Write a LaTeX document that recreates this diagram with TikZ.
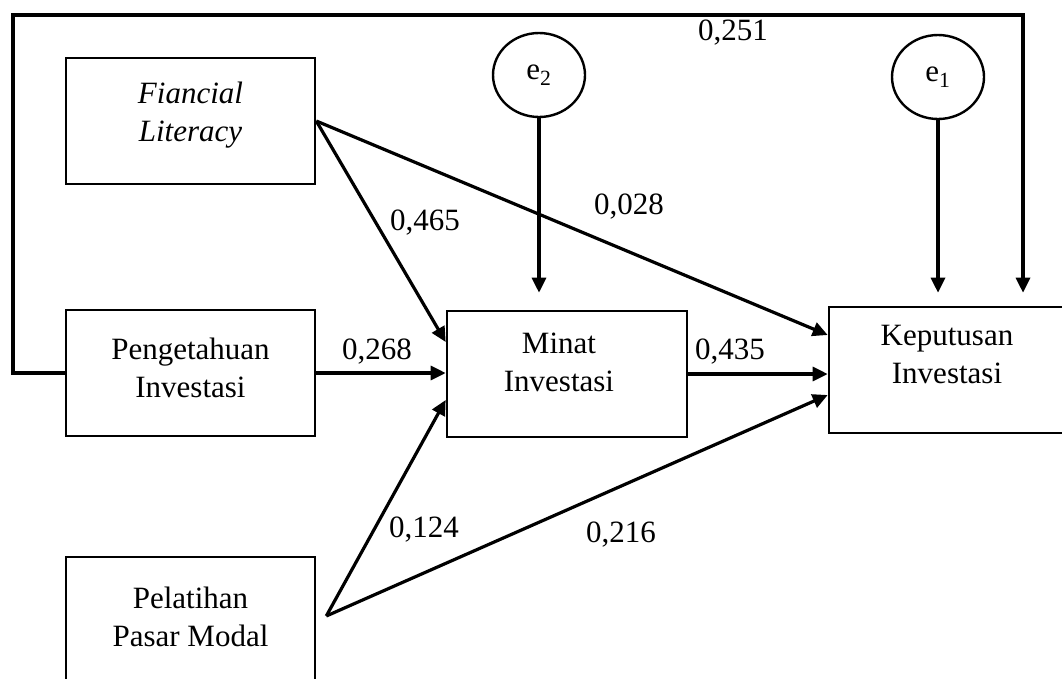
\documentclass[tikz,border=0pt]{standalone}
\usepackage{fontspec}
\setmainfont{Liberation Serif}
\usetikzlibrary{arrows.meta, calc, positioning, shapes.geometric}
\newcommand{\vartext}[2]{\raisebox{#1}[\height][\depth]{\begin{tabular}{@{}c@{}}#2\end{tabular}}}
\tikzset
{%
varbox/.style={draw, line width=2.6pt, minimum width=249pt, minimum height=126pt, inner sep=0pt},
err/.style={draw, ellipse, line width=2.4pt, minimum width=92pt, minimum height=84pt, inner sep=0pt},
coef/.style={inner sep=0pt},
conn/.style={line width=3.2pt, -{Triangle[length=15pt, width=14pt]}}
}

\begin{document}
\begin{tikzpicture}[x=1pt, y=-1pt, every node/.style={font=\fontsize{31}{38}\selectfont}]
		\useasboundingbox (0,0) rectangle (1062,678);
		\clip (0,0) rectangle (1062,678);
		
		%variables
		\node[varbox] (fl) at (190.5,121) {\vartext{6pt}{\itshape Fiancial\\\itshape Literacy}};
		\node[varbox] (pi) at (190.5,373) {\vartext{2pt}{Pengetahuan\\Investasi}};
		\node[varbox] (ppm) at (190.5,620) {\vartext{0pt}{Pelatihan\\Pasar Modal}};
		\node[varbox, minimum width=240pt] (mi) at (567,374) {\vartext{9pt}{Minat\hspace*{16pt}\\Investasi\hspace*{16pt}}};
		\node[varbox, minimum width=236pt] (ki) at (947,370) {\vartext{13pt}{Keputusan\\Investasi}};
		
		%errors
		\node[err] (e2) at (539,75) {e\textsubscript{2}};
		\node[err] (e1) at (938,77) {e\textsubscript{1}};
		
		%coefficients
		\node[coef] (c251) at (733,33) {0,251};
		\node[coef] (c465) at (425,223) {0,465};
		\node[coef] (c028) at (629,207) {0,028};
		\node[coef] (c268) at (377,352) {0,268};
		\node[coef] (c435) at (730,352) {0,435};
		\node[coef] (c124) at (424,530) {0,124};
		\node[coef] (c216) at (621,535) {0,216};
		
		%helper points
		\coordinate (mtop) at ($(mi.north)+(0,-17)$);
		\coordinate (ktop) at ($(ki.north)+(0,-13)$);
		\coordinate (fbl) at (13,15);
		\coordinate (fbr) at (1023,15);
		\coordinate (kfb) at (fbr |- ktop);
		\coordinate (ppmo) at ($(ppm.east)+(10,-4)$);
		
		\path[conn] (e2) edge (e2 |- mtop)
		(e1) edge (e1 |- ktop);
		\draw[conn] (pi.west) -| (fbl) -- (fbr) -- (kfb);
		\path[conn] (fl.east) edge ($(mi.west)+(0,-32)$)
		(fl.east) edge ($(ki.west)+(0,-35)$);
		\path[conn] (pi.east) edge (pi.east -| mi.west)
		(mi.east) edge (mi.east -| ki.west);
		\path[conn] (ppmo) edge ($(mi.west)+(0,26)$)
		(ppmo) edge ($(ki.west)+(0,25)$);
	\end{tikzpicture}
\end{document}
